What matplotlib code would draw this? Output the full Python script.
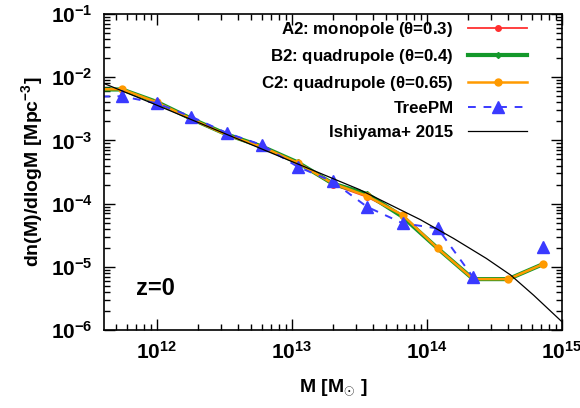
import matplotlib
matplotlib.use("Agg")
import matplotlib.pyplot as plt
import numpy as np

plt.rcParams["font.family"] = ["Liberation Sans", "DejaVu Sans"]
plt.rcParams["font.weight"] = "bold"
plt.rcParams["mathtext.fontset"] = "custom"
plt.rcParams["mathtext.rm"] = "Liberation Sans:bold"
plt.rcParams["mathtext.bf"] = "Liberation Sans:bold"
plt.rcParams["mathtext.it"] = "Liberation Sans:bold"

# ==========================================================
# DATA
# ==========================================================

mass = [3.0e11, 5.5e11, 1.0e12, 1.8e12, 3.3e12, 6.0e12, 1.1e13,
        2.0e13, 3.6e13, 6.6e13, 1.2e14, 2.2e14, 4.0e14, 7.2e14]

a2_mono = [6.5e-3, 6.5e-3, 4.0e-3, 2.12e-3, 1.22e-3, 7.9e-4, 4.44e-4,
           2.0e-4, 1.28e-4, 6.6e-5, 1.96e-5, 6.4e-6, 6.4e-6, 1.1e-5]

b2_quad = [6.4e-3, 6.4e-3, 4.05e-3, 2.2e-3, 1.24e-3, 8.0e-4, 4.5e-4,
           2.08e-4, 1.42e-4, 6.2e-5, 1.96e-5, 6.4e-6, 6.4e-6, 1.1e-5]

c2_quad = [6.45e-3, 6.45e-3, 4.0e-3, 2.18e-3, 1.22e-3, 7.9e-4, 4.44e-4,
           2.09e-4, 1.32e-4, 6.6e-5, 1.96e-5, 6.4e-6, 6.4e-6, 1.1e-5]

treepm = [4.9e-3, 5.0e-3, 3.86e-3, 2.37e-3, 1.31e-3, 8.45e-4, 3.84e-4,
          2.24e-4, 8.9e-5, 4.9e-5, 4.06e-5, 6.8e-6, np.nan, 2.04e-5]

ishi_mass = [3.16e11, 1e12, 3.16e12, 1e13, 3.16e13, 8.9e13,
             1.58e14, 2.75e14, 4.17e14, 6.17e14, 1e15]
ishi_val = [9.9e-3, 3.6e-3, 1.29e-3, 4.63e-4, 1.67e-4, 5.6e-5,
            2.8e-5, 1.36e-5, 7.4e-6, 3.55e-6, 1.35e-6]

labels = [
    r"A2: monopole ($\theta$=0.3)",
    r"B2: quadrupole ($\theta$=0.4)",
    r"C2: quadrupole ($\theta$=0.65)",
    "TreePM",
    "Ishiyama+ 2015",
]

# ==========================================================
# PLOT
# ==========================================================

fig = plt.figure(figsize=(5.8, 4.08), dpi=100)
ax = fig.add_axes([0.1793, 0.191, 0.7897, 0.7747])

ax.plot(mass, a2_mono, color="#ff3030", lw=1.3, marker="o", ms=4,
        label=labels[0])
ax.plot(mass, b2_quad, color="#13982a", lw=3.0, marker="D", ms=3,
        label=labels[1])
ax.plot(mass, c2_quad, color="#ff9a00", lw=1.8, marker="o", ms=5,
        label=labels[2])
ax.plot(mass, treepm, color="#3a3aff", lw=1.4, ls=(0, (4, 4)),
        marker="^", ms=8, label=labels[3])
ax.plot(ishi_mass, ishi_val, color="black", lw=0.9, label=labels[4])

ax.set_xscale("log")
ax.set_yscale("log")
ax.set_xlim(4.05e11, 1e15)
ax.set_ylim(1e-6, 1e-1)

ax.tick_params(which="both", direction="in", top=True, right=True,
               labelsize=15, width=1)
ax.tick_params(which="major", length=8, pad=8)
ax.tick_params(which="minor", length=4)
for s in ax.spines.values():
    s.set_linewidth(1.2)

ax.set_xlabel(r"M [M$_{\odot}$ ]", fontsize=14, fontweight="bold", labelpad=10)
ax.set_ylabel(r"dn(M)/dlogM [Mpc$^{-3}$]", fontsize=14, fontweight="bold",
              labelpad=4)

ax.text(0.07, 0.13, "z=0", transform=ax.transAxes, fontsize=17,
        fontweight="bold", va="center")

# markerfirst=False right-aligns the labels next to the line samples
leg = ax.legend(loc="upper right", bbox_to_anchor=(0.935, 0.997),
                frameon=False, markerfirst=False, fontsize=12.2,
                handlelength=3.5, labelspacing=0.48, handletextpad=0.85,
                borderaxespad=0.0, borderpad=0.3)

fig.savefig("out.png", dpi=100)
